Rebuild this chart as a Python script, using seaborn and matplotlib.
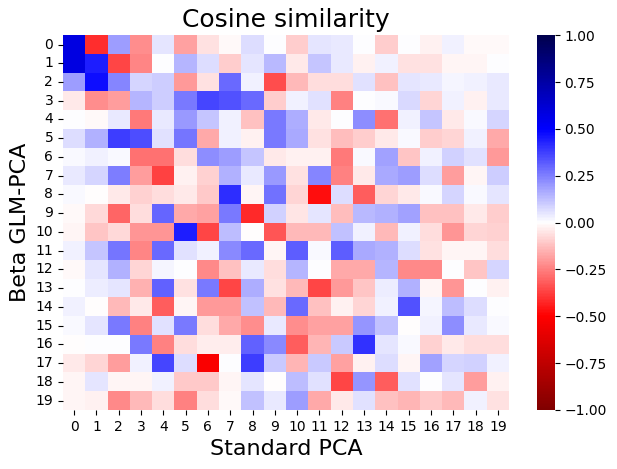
"""Cosine similarity heatmap: Beta GLM-PCA vs Standard PCA components."""

import matplotlib

matplotlib.use("Agg")

import matplotlib.pyplot as plt
import numpy as np
import seaborn as sns

standard_pca = [str(i) for i in range(20)]
beta_glm_pca = [str(i) for i in range(20)]

# rows: Beta GLM-PCA components, columns: Standard PCA components
row_00 = [0.58, -0.41, 0.19, -0.22, 0.05, -0.18, -0.06, -0.01, 0.07, 0.005, -0.10, 0.05, 0.045, 0.005, -0.10, 0.005, -0.025, 0.03, -0.01, -0.01]
row_01 = [0.58, 0.44, -0.36, -0.24, 0.005, 0.145, 0.065, -0.10, 0.05, 0.14, -0.04, 0.115, 0.045, -0.03, 0.03, -0.06, -0.06, -0.02, -0.02, 0.005]
row_02 = [0.19, 0.47, 0.24, 0.08, 0.10, -0.20, -0.06, 0.29, 0.03, -0.35, -0.14, -0.065, -0.065, 0.06, -0.12, 0.05, 0.045, 0.02, 0.03, 0.045]
row_03 = [-0.045, -0.22, -0.19, 0.145, 0.10, 0.26, 0.36, 0.34, 0.29, -0.10, 0.03, 0.06, -0.25, 0.0, 0.015, 0.075, -0.08, 0.025, -0.03, 0.04]
row_04 = [0.005, -0.015, 0.045, -0.26, 0.04, 0.20, 0.11, 0.025, -0.12, 0.265, 0.16, -0.045, 0.005, 0.22, -0.28, 0.025, 0.11, -0.045, 0.015, 0.08]
row_05 = [0.07, 0.15, 0.38, 0.35, 0.06, 0.27, -0.17, 0.025, -0.03, 0.26, 0.17, -0.06, -0.13, -0.10, -0.04, 0.015, -0.10, -0.08, 0.025, -0.17]
row_06 = [0.015, 0.025, 0.015, -0.28, -0.28, -0.07, 0.22, 0.19, 0.11, -0.045, -0.03, -0.03, -0.26, 0.015, 0.18, -0.11, 0.03, 0.09, 0.06, -0.20]
row_07 = [0.04, 0.08, 0.25, -0.19, -0.37, -0.025, -0.09, 0.155, 0.04, 0.20, -0.06, 0.24, -0.25, -0.045, 0.17, 0.19, 0.07, -0.19, -0.02, 0.10]
row_08 = [0.01, -0.005, -0.04, -0.09, -0.065, -0.04, -0.105, 0.41, -0.02, 0.28, -0.08, -0.47, 0.07, -0.32, -0.08, -0.045, 0.015, 0.08, 0.01, 0.05]
row_09 = [-0.015, -0.075, -0.30, -0.07, 0.30, -0.17, -0.18, 0.265, -0.42, 0.09, -0.05, 0.05, -0.13, 0.135, 0.15, 0.18, -0.12, -0.12, -0.04, -0.10]
row_10 = [-0.02, -0.11, -0.075, -0.21, -0.21, 0.44, -0.36, 0.125, -0.005, -0.33, -0.135, -0.135, 0.12, 0.03, -0.135, 0.025, -0.065, -0.21, -0.08, -0.09]
row_11 = [0.025, 0.115, 0.27, -0.24, 0.29, 0.06, 0.03, 0.23, 0.29, -0.02, 0.32, 0.015, 0.32, 0.17, 0.15, 0.07, -0.055, -0.02, -0.02, -0.065]
row_12 = [-0.015, 0.05, 0.155, -0.08, 0.02, 0.005, -0.23, -0.12, 0.04, -0.07, 0.145, 0.0, -0.17, -0.17, 0.145, -0.23, -0.23, 0.0, -0.115, 0.08]
row_13 = [0.005, 0.035, 0.05, -0.155, 0.31, -0.055, 0.26, -0.36, 0.16, -0.06, -0.135, -0.36, -0.20, -0.11, 0.035, 0.15, -0.02, -0.21, 0.0, -0.03]
row_14 = [0.03, -0.005, -0.135, -0.045, -0.315, -0.02, -0.20, -0.20, 0.12, -0.135, 0.295, -0.125, -0.03, -0.08, 0.03, 0.34, 0.02, 0.125, 0.07, 0.005]
row_15 = [0.015, 0.05, 0.265, -0.25, 0.06, 0.265, -0.065, -0.17, -0.22, 0.045, -0.22, -0.18, -0.18, 0.21, 0.12, -0.005, 0.03, 0.22, 0.04, 0.015]
row_16 = [-0.005, 0.005, 0.0, 0.265, -0.25, -0.07, -0.035, -0.035, 0.31, 0.23, -0.32, -0.145, 0.105, 0.40, 0.05, 0.015, -0.09, -0.045, -0.07, -0.065]
row_17 = [-0.04, -0.08, -0.19, 0.025, 0.36, 0.07, -0.52, 0.0, 0.375, 0.105, -0.145, 0.105, -0.18, -0.03, 0.07, -0.02, 0.18, 0.08, 0.09, 0.03]
row_18 = [-0.02, 0.05, -0.02, -0.02, 0.03, -0.105, -0.105, -0.02, 0.05, -0.005, 0.125, 0.06, -0.36, 0.21, -0.32, 0.06, 0.0, 0.05, -0.19, -0.03]
row_19 = [-0.02, -0.03, -0.23, -0.135, -0.07, -0.25, -0.065, -0.01, 0.12, 0.045, 0.19, -0.17, -0.04, 0.06, -0.125, -0.145, -0.105, -0.135, 0.025, -0.055]

similarity = np.array([
    row_00, row_01, row_02, row_03, row_04, row_05, row_06, row_07, row_08, row_09,
    row_10, row_11, row_12, row_13, row_14, row_15, row_16, row_17, row_18, row_19,
])

fig = plt.figure(figsize=(6.17, 4.69), dpi=100)
ax = fig.add_axes([0.102, 0.126, 0.723, 0.799])
cbar_ax = fig.add_axes([0.870, 0.126, 0.029, 0.799])
sns.heatmap(
    similarity,
    cmap="seismic_r",
    vmin=-1,
    vmax=1,
    xticklabels=standard_pca,
    yticklabels=beta_glm_pca,
    ax=ax,
    cbar_ax=cbar_ax,
)
ax.tick_params(axis="y", rotation=0)
ax.tick_params(axis="x", rotation=0)
ax.set_title("Cosine similarity", fontsize=18)
ax.set_xlabel("Standard PCA", fontsize=16)
ax.set_ylabel("Beta GLM-PCA", fontsize=16)
fig.savefig("out.png", dpi=100)
plt.close(fig)
